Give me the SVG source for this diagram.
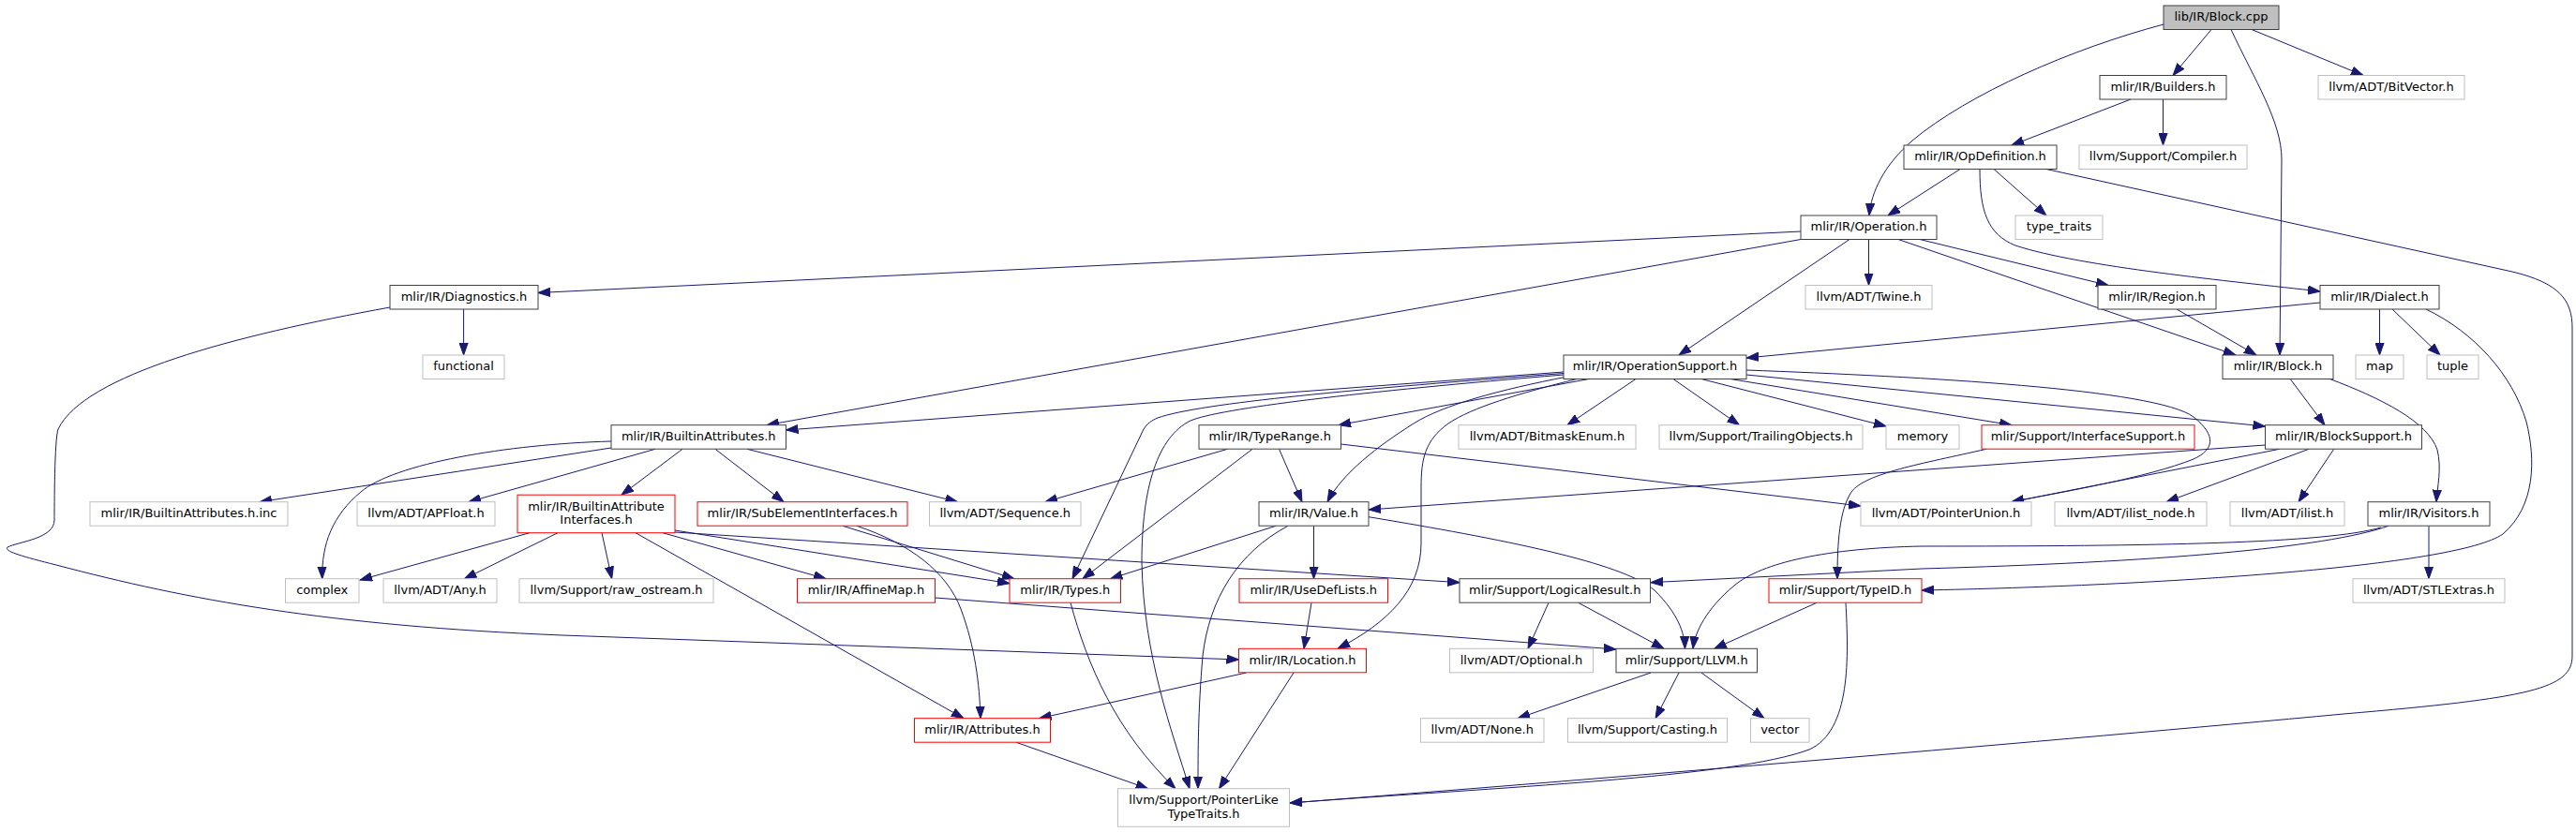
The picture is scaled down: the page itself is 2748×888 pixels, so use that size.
<svg xmlns="http://www.w3.org/2000/svg" width="2748" height="888" viewBox="0 0 2748 888">
<style>
.n rect{fill:#ffffff;stroke:#404040;stroke-width:1}
.x rect{stroke:#bfbfbf}
.t rect{stroke:#ff0000}
.r rect{fill:#bfbfbf}
text{font-family:"DejaVu Sans","Liberation Sans",sans-serif;font-size:13px;text-anchor:middle;fill:#000}
#edges path{fill:none;stroke:#191970;stroke-width:1;marker-end:url(#a)}
</style>
<defs>
<marker id="a" markerUnits="userSpaceOnUse" markerWidth="14" markerHeight="10" refX="13" refY="5" orient="auto">
<path d="M0,0.4 L13,5 L0,9.6 z" fill="#191970" stroke="#191970" stroke-width="1"/>
</marker>
</defs>
<rect width="2748" height="888" fill="#ffffff"/>
<g id="edges">
<path d="M2308,26 C2210,52 2100,100 2040,150 C2010,176 1996,205 1994,230"/>
<path d="M2359,31.5 L2318,80.5"/>
<path d="M2380,31.5 C2405,85 2434,130 2434,170 L2432,379"/>
<path d="M2402,31.5 L2521,80.5"/>
<path d="M2273,106 L2146,155"/>
<path d="M2307.5,106 L2307.5,155"/>
<path d="M2091,180.5 L2014,230"/>
<path d="M2127,180.5 L2183,230"/>
<path d="M2112,180.5 C2112,225 2120,250 2150,262 C2220,285 2380,300 2475,311"/>
<path d="M2183,180.5 L2680,290 C2730,302 2744,320 2744,350 L2744,700 C2744,735 2700,745 2500,762 C2200,790 1700,832 1376,857"/>
<path d="M1921,247 L574,312.5"/>
<path d="M1921,255.5 L818,453.7"/>
<path d="M1993.5,255.5 L1993.5,304.5"/>
<path d="M2048,255.5 L2249,304.5"/>
<path d="M2025,255.5 L2385,379"/>
<path d="M1973,255.5 L1791,379"/>
<path d="M494.6,330 L494.6,379"/>
<path d="M416,328 C250,358 90,400 62,458 C58,470 58,540 58,555 C58,575 20,578 8,584 C4,588 20,593 60,603 C200,640 350,668 600,678 L1321.5,704"/>
<path d="M2322,330 L2407,379"/>
<path d="M2475,323 L1863,382"/>
<path d="M2538.5,330 L2538.5,379"/>
<path d="M2552,330 L2603,379"/>
<path d="M2588,330 C2640,355 2680,400 2695,450 C2705,490 2705,540 2670,570 C2620,605 2300,625 2050,630"/>
<path d="M1668,397 L838.5,459"/>
<path d="M1695,404.5 L1428,453.7"/>
<path d="M1672,402 C1600,416 1540,432 1508,452 C1470,476 1432,505 1416,535.7"/>
<path d="M1682,404.5 C1620,420 1570,435 1545,452 C1520,470 1516,490 1516,520 L1516,580 C1516,630 1480,665 1427,692.3"/>
<path d="M1668,398.5 C1450,415 1280,430 1235,446 C1228,449 1224,452 1220,458 L1144,617.7"/>
<path d="M1668,400 C1450,418 1300,436 1270,449 C1235,466 1218,520 1218,600 C1220,700 1250,780 1269,841.7"/>
<path d="M1745,404.5 L1672,453.7"/>
<path d="M1785,404.5 L1855.5,453.7"/>
<path d="M1815,404.5 L2012,455"/>
<path d="M1846,404.5 L2146,453.7"/>
<path d="M1863,400 L2416.5,455"/>
<path d="M1863,395 C2050,402 2300,415 2340,445 C2365,465 2362,480 2340,490 C2290,510 2200,525 2146,535.7"/>
<path d="M652,478 L277,535.7"/>
<path d="M699,479.3 L500,535.7"/>
<path d="M728,479.3 L663,528.2"/>
<path d="M763,479.3 L836,535.7"/>
<path d="M797,479.3 L1021.5,535.7"/>
<path d="M652,471 C540,474 420,495 385,525 C355,550 343,580 343.75,617.7"/>
<path d="M565,568.7 L384,619"/>
<path d="M595,568.7 L495.5,617.7"/>
<path d="M642,568.7 L652.7,617.7"/>
<path d="M707,568.7 L881,617.7"/>
<path d="M720,566 L1077,622.7"/>
<path d="M720,568 L1557,621.7"/>
<path d="M678,568.7 L1028,766.7"/>
<path d="M899,561.3 L1082,617.7"/>
<path d="M914,561.3 C970,580 1010,610 1025,650 C1040,690 1045,730 1046,766.7"/>
<path d="M1309.5,479.3 L1115,535.7"/>
<path d="M1336,479.3 L1155,617.7"/>
<path d="M1364.5,479.3 L1389,535.7"/>
<path d="M1430.5,474 L1985,540"/>
<path d="M1361,561.3 L1184.5,617.7"/>
<path d="M1401.5,561.3 L1401.5,617.7"/>
<path d="M1374,561.3 C1320,590 1290,640 1283,700 C1278,760 1278,800 1278,841.7"/>
<path d="M1460,551.7 C1600,575 1730,600 1765,630 C1790,655 1797,675 1797.5,692.3"/>
<path d="M1399,643.3 L1391,692.3"/>
<path d="M1329.5,718 L1108.6,766.7"/>
<path d="M1380,718 L1300.5,841.7"/>
<path d="M1084,792.3 L1224.6,841.7"/>
<path d="M1142,643.3 C1160,710 1190,780 1254,841.7"/>
<path d="M997.5,638 L1724,693"/>
<path d="M1652,643.3 L1630,692.3"/>
<path d="M1683.7,643.3 L1775,692.3"/>
<path d="M1938,643.3 L1828.75,692.3"/>
<path d="M1969,643.3 C1972,700 1975,780 1930,800 C1850,830 1600,840 1376,857"/>
<path d="M1761,718 L1619,766.7"/>
<path d="M1791,718 L1766,766.7"/>
<path d="M1815,718 L1882,766.7"/>
<path d="M2119,479.3 C2050,495 1990,505 1975,525 C1962,545 1960,580 1960,617.7"/>
<path d="M2416.5,475 L1460,544"/>
<path d="M2431.7,479.3 L2146,535.7"/>
<path d="M2463,479.3 L2311,535.7"/>
<path d="M2489.7,479.3 L2452,535.7"/>
<path d="M2443,404.3 L2480,453.7"/>
<path d="M2485,404.3 C2540,425 2590,450 2600,480 C2605,500 2600,520 2599,535.7"/>
<path d="M2591,561.3 L2591,617.7"/>
<path d="M2548,561.3 C2480,585 2300,600 2050,607 L1761,621.7"/>
<path d="M2540,563 C2480,580 2300,583 2050,583 C1950,585 1880,600 1850,625 C1820,650 1808,675 1806,692.3"/>
</g>
<g id="n1" class="n r"><rect x="2308" y="6" width="123" height="25.5"/><text x="2369.5" y="22.3">lib/IR/Block.cpp</text></g>
<g id="n2" class="n"><rect x="2240" y="80.5" width="135" height="25.5"/><text x="2307.5" y="96.8">mlir/IR/Builders.h</text></g>
<g id="n3" class="n x"><rect x="2473" y="80.5" width="156" height="25.5"/><text x="2551" y="96.8">llvm/ADT/BitVector.h</text></g>
<g id="n4" class="n"><rect x="2031" y="155" width="163" height="25.5"/><text x="2112.5" y="171.3">mlir/IR/OpDefinition.h</text></g>
<g id="n5" class="n x"><rect x="2218" y="155" width="179" height="25.5"/><text x="2307.5" y="171.3">llvm/Support/Compiler.h</text></g>
<g id="n6" class="n"><rect x="1921" y="230" width="145" height="25.5"/><text x="1993.5" y="246.3">mlir/IR/Operation.h</text></g>
<g id="n7" class="n x"><rect x="2150" y="230" width="93" height="25.5"/><text x="2196.5" y="246.3">type_traits</text></g>
<g id="n8" class="n"><rect x="416" y="304.5" width="158" height="25.5"/><text x="495" y="320.8">mlir/IR/Diagnostics.h</text></g>
<g id="n9" class="n x"><rect x="1926" y="304.5" width="135" height="25.5"/><text x="1993.5" y="320.8">llvm/ADT/Twine.h</text></g>
<g id="n10" class="n"><rect x="2238" y="304.5" width="126" height="25.5"/><text x="2301" y="320.8">mlir/IR/Region.h</text></g>
<g id="n11" class="n"><rect x="2475" y="304.5" width="127" height="25.5"/><text x="2538.5" y="320.8">mlir/IR/Dialect.h</text></g>
<g id="n12" class="n x"><rect x="451" y="379" width="87" height="25.5"/><text x="494.5" y="395.3">functional</text></g>
<g id="n13" class="n"><rect x="1668" y="379" width="195" height="25.5"/><text x="1765.5" y="395.3">mlir/IR/OperationSupport.h</text></g>
<g id="n14" class="n"><rect x="2371" y="379" width="118" height="25.5"/><text x="2430" y="395.3">mlir/IR/Block.h</text></g>
<g id="n15" class="n x"><rect x="2513" y="379" width="51" height="25.5"/><text x="2538.5" y="395.3">map</text></g>
<g id="n16" class="n x"><rect x="2589" y="379" width="55" height="25.5"/><text x="2616.5" y="395.3">tuple</text></g>
<g id="n17" class="n"><rect x="652" y="453.7" width="186.5" height="25.5"/><text x="745.25" y="470">mlir/IR/BuiltinAttributes.h</text></g>
<g id="n18" class="n"><rect x="1279" y="453.7" width="151.5" height="25.5"/><text x="1354.75" y="470">mlir/IR/TypeRange.h</text></g>
<g id="n19" class="n x"><rect x="1556" y="453.7" width="189" height="25.5"/><text x="1650.5" y="470">llvm/ADT/BitmaskEnum.h</text></g>
<g id="n20" class="n x"><rect x="1770" y="453.7" width="217" height="25.5"/><text x="1878.5" y="470">llvm/Support/TrailingObjects.h</text></g>
<g id="n21" class="n x"><rect x="2012" y="453.7" width="78" height="25.5"/><text x="2051" y="470">memory</text></g>
<g id="n22" class="n t"><rect x="2114" y="453.7" width="227" height="25.5"/><text x="2227.5" y="470">mlir/Support/InterfaceSupport.h</text></g>
<g id="n23" class="n"><rect x="2416.5" y="453.7" width="167" height="25.5"/><text x="2500" y="470">mlir/IR/BlockSupport.h</text></g>
<g id="n24" class="n x"><rect x="96" y="535.7" width="211" height="25.5"/><text x="201.5" y="552">mlir/IR/BuiltinAttributes.h.inc</text></g>
<g id="n25" class="n x"><rect x="381" y="535.7" width="147" height="25.5"/><text x="454.5" y="552">llvm/ADT/APFloat.h</text></g>
<g id="n26" class="n t"><rect x="552" y="528.2" width="168" height="40.5"/><text x="636" y="545">mlir/IR/BuiltinAttribute</text><text x="636" y="559.3">Interfaces.h</text></g>
<g id="n27" class="n t"><rect x="744" y="535.7" width="224" height="25.5"/><text x="856" y="552">mlir/IR/SubElementInterfaces.h</text></g>
<g id="n28" class="n x"><rect x="991.5" y="535.7" width="161.5" height="25.5"/><text x="1072.25" y="552">llvm/ADT/Sequence.h</text></g>
<g id="n29" class="n"><rect x="1343" y="535.7" width="117" height="25.5"/><text x="1401.5" y="552">mlir/IR/Value.h</text></g>
<g id="n30" class="n x"><rect x="1985" y="535.7" width="182" height="25.5"/><text x="2076" y="552">llvm/ADT/PointerUnion.h</text></g>
<g id="n31" class="n x"><rect x="2192" y="535.7" width="162" height="25.5"/><text x="2273" y="552">llvm/ADT/ilist_node.h</text></g>
<g id="n32" class="n x"><rect x="2379" y="535.7" width="122" height="25.5"/><text x="2440" y="552">llvm/ADT/ilist.h</text></g>
<g id="n33" class="n"><rect x="2526" y="535.7" width="130" height="25.5"/><text x="2591" y="552">mlir/IR/Visitors.h</text></g>
<g id="n34" class="n x"><rect x="304.5" y="617.7" width="78.5" height="25.5"/><text x="343.75" y="634">complex</text></g>
<g id="n35" class="n x"><rect x="409" y="617.7" width="121" height="25.5"/><text x="469.5" y="634">llvm/ADT/Any.h</text></g>
<g id="n36" class="n x"><rect x="554" y="617.7" width="207" height="25.5"/><text x="657.5" y="634">llvm/Support/raw_ostream.h</text></g>
<g id="n37" class="n t"><rect x="850.5" y="617.7" width="147" height="25.5"/><text x="924" y="634">mlir/IR/AffineMap.h</text></g>
<g id="n38" class="n t"><rect x="1077" y="617.7" width="118.5" height="25.5"/><text x="1136.25" y="634">mlir/IR/Types.h</text></g>
<g id="n39" class="n t"><rect x="1322" y="617.7" width="158.5" height="25.5"/><text x="1401.25" y="634">mlir/IR/UseDefLists.h</text></g>
<g id="n40" class="n"><rect x="1557" y="617.7" width="203.5" height="25.5"/><text x="1658.75" y="634">mlir/Support/LogicalResult.h</text></g>
<g id="n41" class="n t"><rect x="1887" y="617.7" width="163" height="25.5"/><text x="1968.5" y="634">mlir/Support/TypeID.h</text></g>
<g id="n42" class="n x"><rect x="2510" y="617.7" width="162" height="25.5"/><text x="2591" y="634">llvm/ADT/STLExtras.h</text></g>
<g id="n43" class="n t"><rect x="1321.5" y="692.3" width="136" height="25.5"/><text x="1389.5" y="708.6">mlir/IR/Location.h</text></g>
<g id="n44" class="n x"><rect x="1546.5" y="692.3" width="153" height="25.5"/><text x="1623" y="708.6">llvm/ADT/Optional.h</text></g>
<g id="n45" class="n"><rect x="1724" y="692.3" width="150.5" height="25.5"/><text x="1799.25" y="708.6">mlir/Support/LLVM.h</text></g>
<g id="n46" class="n t"><rect x="975.5" y="766.7" width="145" height="25.5"/><text x="1048" y="783">mlir/IR/Attributes.h</text></g>
<g id="n47" class="n x"><rect x="1515.5" y="766.7" width="131.5" height="25.5"/><text x="1581.25" y="783">llvm/ADT/None.h</text></g>
<g id="n48" class="n x"><rect x="1672.5" y="766.7" width="170" height="25.5"/><text x="1757.5" y="783">llvm/Support/Casting.h</text></g>
<g id="n49" class="n x"><rect x="1867.5" y="766.7" width="62.5" height="25.5"/><text x="1898.75" y="783">vector</text></g>
<g id="n50" class="n x"><rect x="1192.5" y="841.7" width="183" height="40.6"/><text x="1284" y="858">llvm/Support/PointerLike</text><text x="1284" y="872.5">TypeTraits.h</text></g>
</svg>
